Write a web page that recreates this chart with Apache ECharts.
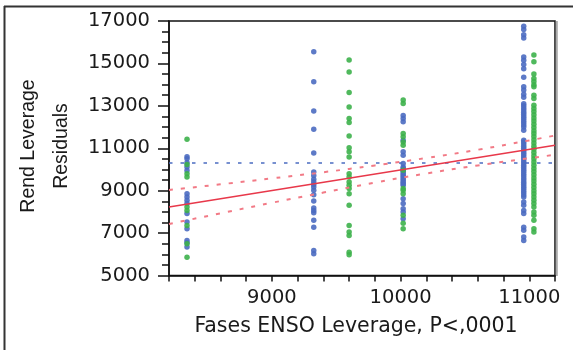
<!DOCTYPE html>
<html>
<head>
<meta charset="utf-8">
<script src="https://cdn.jsdelivr.net/npm/echarts@6/dist/echarts.min.js"></script>
<style>
html,body{margin:0;padding:0;background:#fff;}
#chart{width:573px;height:350px;}
</style>
</head>
<body>
<div id="chart"></div>
<script>
// ---- data ----
const xTickLabels = [9000, 10000, 11000];
const yTickLabels = [5000, 7000, 9000, 11000, 13000, 15000, 17000];

// x positions of the point columns
const blueX = [8340, 9325, 10020, 10957];
const greenX = [8340, 9600, 10020, 11036];

// blue residuals per column
const blue1 = [10600, 10500, 10320, 10120, 9950, 8860, 8700, 8550, 8400, 7920, 7520, 7200, 6650, 6550, 6340];
const blue2 = [15550, 14130, 12760, 11900, 10780, 9880, 9720, 9540, 9410, 9290, 9170, 9020, 8810, 8510, 8180, 8070, 7960, 7600, 7280, 6180, 6030];
const blue3 = [12550, 12400, 12250, 11380, 10830, 10670, 10280, 10120, 10040, 9960, 9880, 9800, 9720, 9640, 9560, 9480, 9400, 9330, 9250, 8620, 8390, 8150, 7990, 7680];
const blue4 = [16750, 16600, 16350, 16200, 15300, 15150, 14950, 14750, 14350, 13900, 13750, 13550, 13400, 13100, 13000, 12900, 12800, 12700, 12600, 12500, 12400, 12300, 12200, 12100, 12000, 11850, 11380, 11300, 11200, 11100, 11000, 10900, 10800, 10700, 10600, 10500, 10400, 10300, 10200, 10100, 10000, 9900, 9800, 9700, 9600, 9500, 9400, 9300, 9200, 9100, 9000, 8900, 8800, 8700, 8470, 8310, 8070, 7920, 7280, 7130, 6810, 6650];

// green residuals per column
const green1 = [11420, 10230, 9800, 9650, 8230, 8070, 7360, 6500, 5860];
const green2 = [15160, 14600, 13630, 12950, 12400, 12210, 11580, 11020, 10830, 10590, 9800, 9650, 9410, 9250, 9100, 8860, 8310, 7360, 7050, 6890, 6100, 5980];
const green3 = [13270, 13110, 11700, 11540, 11300, 11140, 9960, 9100, 9020, 8860, 7840, 7460, 7210];
const green4 = [15400, 15080, 14500, 14290, 14150, 14000, 13900, 13500, 13350, 13030, 12880, 12730, 12580, 12430, 12280, 12130, 11980, 11830, 11700, 11550, 11400, 11250, 11100, 10950, 10800, 10650, 10500, 10350, 10200, 10050, 9900, 9750, 9600, 9450, 9300, 9150, 9000, 8850, 8700, 8550, 8400, 8230, 7990, 7840, 7600, 7210, 7050];

// mean line, fit line and confidence curves
const meanY = 10300;
const fitX = [8200, 11200];
const fitY = [8230, 11140];
const bandX = [8200, 8600, 9000, 9400, 9800, 10200, 10600, 11000, 11200];
const bandUpper = [9030, 9300, 9580, 9870, 10190, 10540, 10930, 11370, 11600];
const bandLower = [7430, 7930, 8430, 8910, 9380, 9810, 10190, 10530, 10690];

// ---- build ----
function cols(xs, lists) {
  const out = [];
  lists.forEach((l, i) => l.forEach(v => out.push([xs[i], v])));
  return out;
}
const blueData = cols(blueX, [blue1, blue2, blue3, blue4]);
const greenData = cols(greenX, [green1, green2, green3, green4]);
const zip = (a, b) => a.map((v, i) => [v, b[i]]);

const BLUE = '#4b6cc1', GREEN = '#3db14b', RED = '#e8384a', PINK = '#f27a86';
const AX = '#111', TXT = '#1a1a1a';
const chart = echarts.init(document.getElementById('chart'), null, {renderer: 'canvas'});
chart.setOption({
  animation: false,
  grid: {left: 169, right: 18, top: 21, bottom: 74.5, show: true, borderColor: AX, borderWidth: 1.5, backgroundColor: 'transparent'},
  xAxis: {
    type: 'value', min: 8200, max: 11200, interval: 200,
    axisLine: {show: true, lineStyle: {color: AX, width: 1.5}},
    axisTick: {show: true, length: 6, lineStyle: {color: AX, width: 1.5}},
    axisLabel: {
      show: true, margin: 12, fontFamily: 'DejaVu Sans', fontSize: 19.5, color: TXT,
      showMinLabel: true, showMaxLabel: true,
      formatter: v => xTickLabels.indexOf(v) >= 0 ? String(v) : ''
    },
    splitLine: {show: false}
  },
  yAxis: {
    type: 'value', min: 5000, max: 17000, interval: 2000,
    axisLine: {show: true, lineStyle: {color: AX, width: 1.5}},
    axisTick: {show: true, length: 11, lineStyle: {color: AX, width: 1.5}},
    minorTick: {show: true, splitNumber: 4, length: 7, lineStyle: {color: AX, width: 1.5}},
    axisLabel: {
      show: true, margin: 19, fontFamily: 'DejaVu Sans', fontSize: 19.5, color: TXT,
      formatter: v => yTickLabels.indexOf(v) >= 0 ? String(v) : ''
    },
    splitLine: {show: false}, minorSplitLine: {show: false}
  },
  series: [
    {type: 'scatter', data: blueData, symbolSize: 5.5, itemStyle: {color: BLUE, opacity: 0.9}, silent: true, z: 2},
    {type: 'scatter', data: greenData, symbolSize: 5.5, itemStyle: {color: GREEN, opacity: 0.9}, silent: true, z: 2},
    {type: 'line', data: [[8200, meanY], [11200, meanY]], symbol: 'none', silent: true, z: 5,
     lineStyle: {color: BLUE, width: 1.5, type: [3.5, 8]}},
    {type: 'line', data: zip(bandX, bandUpper), symbol: 'none', smooth: true, silent: true, z: 5,
     lineStyle: {color: PINK, width: 2, type: [4, 8]}},
    {type: 'line', data: zip(bandX, bandLower), symbol: 'none', smooth: true, silent: true, z: 5,
     lineStyle: {color: PINK, width: 2, type: [4, 8]}},
    {type: 'line', data: zip(fitX, fitY), symbol: 'none', silent: true, z: 6,
     lineStyle: {color: RED, width: 1.5}}
  ],
  graphic: [
    {type: 'line', shape: {x1: 4, y1: 6.5, x2: 573, y2: 6.5}, style: {stroke: '#333', lineWidth: 2}, silent: true},
    {type: 'line', shape: {x1: 4.5, y1: 6, x2: 4.5, y2: 350}, style: {stroke: '#333', lineWidth: 2}, silent: true},
    {type: 'line', shape: {x1: 556.8, y1: 21, x2: 556.8, y2: 276}, style: {stroke: '#aaa', lineWidth: 2}, silent: true},
    {type: 'text', x: 356, y: 327, silent: true,
     style: {text: 'Fases ENSO Leverage, P<,0001', font: '20.5px "DejaVu Sans"', fill: TXT, textAlign: 'center', textVerticalAlign: 'middle'}},
    {type: 'text', x: 29, y: 146, rotation: Math.PI / 2, silent: true,
     style: {text: 'Rend Leverage', font: '19.5px "Liberation Sans"', fill: TXT, textAlign: 'center', textVerticalAlign: 'middle'}},
    {type: 'text', x: 62, y: 146, rotation: Math.PI / 2, silent: true,
     style: {text: 'Residuals', font: '19.5px "Liberation Sans"', fill: TXT, textAlign: 'center', textVerticalAlign: 'middle'}}
  ]
});
</script>
</body>
</html>
